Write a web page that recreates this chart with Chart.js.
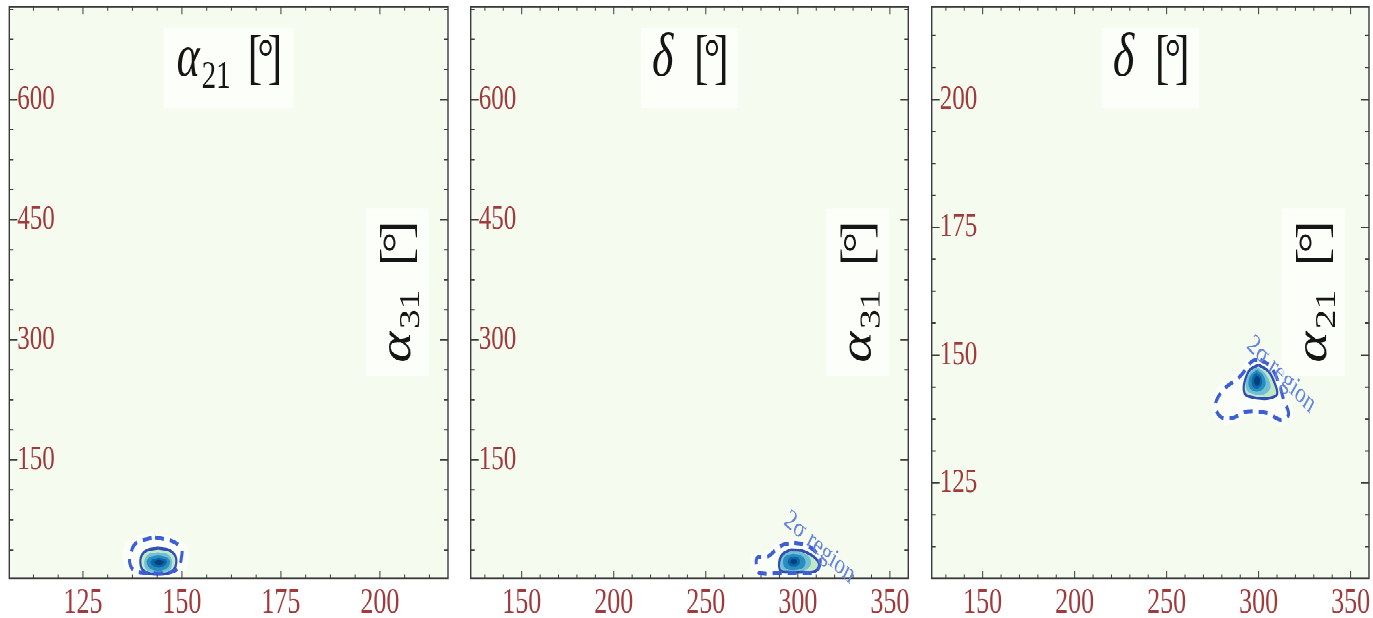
<!DOCTYPE html>
<html><head><meta charset="utf-8">
<script src="https://cdn.jsdelivr.net/npm/chart.js@4.4.1/dist/chart.umd.min.js"></script>
<style>
html,body{margin:0;padding:0;background:#fff;width:1373px;height:618px;overflow:hidden}
#wrap{position:absolute;left:0;top:0;width:1373px;height:458px;transform:scaleY(1.349345);transform-origin:0 0}
.p{position:absolute;top:0;height:458px}
</style></head><body>
<div id="wrap">
<div class="p" style="left:0;width:460px"><canvas id="c1"></canvas></div>
<div class="p" style="left:460px;width:460px"><canvas id="c2"></canvas></div>
<div class="p" style="left:920px;width:453px"><canvas id="c3"></canvas></div>
</div>
<script>
// ---- tick labels ----
const alpha21Ticks = [125, 150, 175, 200];
const alpha31Ticks = [150, 300, 450, 600];
const deltaTicks = [150, 200, 250, 300, 350];

// ---- panel 1: x = alpha21, y = alpha31 ----
const p1Halo = [[143.2,58],[149,53],[151.5,40],[151.6,22],[150,8],[143.5,4],[137,8],[135.2,22],[135.2,40],[137.5,53],[143.2,58]];
const p1Dashed = [[143.2,53.5],[147.8,48],[149.9,39],[149.9,29],[149.1,15],[146.5,9],[143.6,8],[140.3,9],[137.7,13],[136.8,22],[137,31.4],[137.7,42],[139,48],[143.2,53.5]];
const p1Solid = [[144,40],[147,37],[148.5,28],[148.2,15],[146.5,8.5],[144,7.5],[141.5,8.5],[139.8,15],[139.6,28],[141,37],[144,40]];
const p1Light = [[144,35],[146.6,32],[147.5,24],[147,13],[144,9],[141,13],[140.5,24],[141.4,32],[144,35]];
const p1Blue = [[144,31],[146.2,28.5],[147,23],[146.3,15],[144,11.5],[141.8,15],[141.1,23],[141.8,28.5],[144,31]];
const p1Dark = [[144.2,28],[145.8,26],[146.2,22.5],[145.6,18],[144.2,15.5],[142.6,18],[142.1,22.5],[142.6,26],[144.2,28]];
const p1Darkest = [[144.2,25.5],[145.2,24],[145.4,22],[144.8,19.5],[143.6,19.5],[143,22],[143.3,24],[144.2,25.5]];

// ---- panel 2: x = delta, y = alpha31 ----
const p2Halo = [[298,51],[306,48],[312,40],[315,27],[314.5,13],[311,6],[300,4],[289,4.5],[276,6],[274.5,18],[275,31],[282,35],[286,42],[291,48],[298,51]];
const p2Dashed = [[298,46.5],[304,44],[309,37],[312,27],[311.5,16],[309,10],[300,8.5],[290,8.5],[279,9],[277.5,18],[278,28],[284,30],[288,38],[292,44],[298,46.5]];
const p2Solid = [[296,38],[302,37],[307,32],[310.5,25],[311.5,18],[309.5,11],[303,10],[295,10],[291,11],[289.8,18],[290.5,28],[292.5,34],[296,38]];
const p2Light = [[297,36],[302.5,34.5],[306.5,28],[307,19],[304,12.5],[297,11],[291.8,12.5],[290.6,19],[291,28],[293,33.5],[297,36]];
const p2Blue = [[297.5,33],[301.5,31],[304,25],[303.5,17],[300,13],[295,13],[292.5,17],[292,25],[293.5,30.5],[297.5,33]];
const p2Dark = [[297.8,29.5],[300.3,28],[301.2,23],[300.2,18.5],[297.8,17],[295.3,18.5],[294.5,23],[295.3,27.5],[297.8,29.5]];
const p2Darkest = [[297.8,26.5],[299.2,25.5],[299.6,23],[299,20.5],[297.5,20],[296.3,21],[296,23.5],[296.7,25.8],[297.8,26.5]];

// ---- panel 3: x = delta, y = alpha21 ----
const p3Halo = [[301,150.3],[308,148.8],[313,145.3],[316.5,141.5],[319,138.2],[313,136.2],[304,137.6],[293.5,138],[285,136.5],[278,136.8],[274.3,140.5],[279.5,144.5],[289.5,147],[295.5,149.8],[301,150.3]];
const p3Dashed = [[300.9,149.1],[306.4,147.8],[310.9,144.6],[313.6,141.3],[316.3,138.4],[311.8,137.4],[304.6,138.7],[293.7,139],[285.6,137.7],[279.2,138],[276.5,140.3],[281,143.3],[290.1,145.9],[296.4,148.8],[300.9,149.1]];
const p3Solid = [[300,148.1],[305.4,146.8],[309.1,144.2],[310,142.3],[306,141.6],[301.8,141.5],[296,141.8],[292.8,142.3],[291.9,143.9],[293.5,146],[295.5,147.2],[300,148.1]];
const p3Light = [[299.5,147.6],[304,146.2],[306.5,143.8],[303,142.3],[297,142.4],[293.5,143.2],[293.3,145],[296,146.9],[299.5,147.6]];
const p3Blue = [[299,147.2],[302.5,146.1],[303.8,144.3],[301,143],[296.5,143.1],[294.5,144.2],[295.3,145.9],[299,147.2]];
const p3Dark = [[298.8,146.6],[301.3,145.8],[301.8,144.4],[299.5,143.5],[297,143.8],[296.2,145],[297.2,146.1],[298.8,146.6]];
const p3Darkest = [[299,146],[300.5,145.5],[300.6,144.6],[299.2,144],[297.8,144.4],[297.6,145.3],[299,146]];

// ---- styling ----
const BG = '#f6fbef';
const TICK_COLOR = '#a03a3c';
const SERIF = '"Liberation Serif", "DejaVu Serif", serif';

function toXY(arr) { return arr.map(p => ({x: p[0], y: p[1]})); }

function layerSets(L) {
  const base = {showLine: true, pointRadius: 0, pointHoverRadius: 0, tension: 0.35};
  const filled = (d, c, o) => Object.assign({}, base, {data: toXY(d), fill: 'shape', backgroundColor: c, borderColor: 'transparent', borderWidth: 0, order: o});
  return [
    filled(L.halo, 'rgba(255,255,255,0.55)', 9),
    filled(L.solid, '#c2e7c2', 8),
    filled(L.light, '#6fbfd6', 7),
    filled(L.blue, '#2b8cbe', 6),
    filled(L.dark, '#0868ac', 5),
    filled(L.darkest, '#083f7a', 4),
    Object.assign({}, base, {data: toXY(L.solid), fill: false, borderColor: '#2f4fb5', borderWidth: 2.2, order: 3}),
    Object.assign({}, base, {data: toXY(L.dashed), fill: false, borderColor: '#3d5fd3', borderWidth: 3, borderDash: [9, 6], order: 2}),
  ];
}

function alphaRun(sub) {
  return {len: 104, pieces: [
    {t: 'α', font: 'italic 44px ' + SERIF, x: 0, dy: 0},
    {t: sub, font: '29px ' + SERIF, x: 25, dy: 9},
    {t: '[', font: '44px ' + SERIF, x: 71, dy: 1},
    {t: '°', font: '40px ' + SERIF, x: 81, dy: 0},
    {t: ']', font: '44px ' + SERIF, x: 91, dy: 1},
  ]};
}
function deltaRun() {
  return {len: 75, pieces: [
    {t: 'δ', font: 'italic 46px ' + SERIF, x: 0, dy: 0},
    {t: '[', font: '44px ' + SERIF, x: 42, dy: 1},
    {t: '°', font: '40px ' + SERIF, x: 52, dy: 0},
    {t: ']', font: '44px ' + SERIF, x: 62, dy: 1},
  ]};
}

function drawRun(ctx, run, sx, by) {
  ctx.textAlign = 'left';
  ctx.textBaseline = 'alphabetic';
  run.pieces.forEach(p => { ctx.font = p.font; ctx.fillText(p.t, sx + p.x, by + p.dy); });
}

function minorValues(min, max, step, majors) {
  const out = [];
  for (let v = Math.ceil(min / step) * step; v <= max + 1e-9; v += step) {
    if (!majors.some(m => Math.abs(m - v) < 1e-6)) out.push(v);
  }
  return out;
}

function makeFrame(P) {
  return {
    id: 'frame_' + P.id,
    beforeDraw(chart) {
      const {ctx, chartArea: a} = chart;
      ctx.save();
      ctx.fillStyle = BG;
      ctx.fillRect(a.left, a.top, a.right - a.left, a.bottom - a.top);
      ctx.restore();
    },
    afterDatasetsDraw(chart) {
      const {ctx, chartArea: a} = chart;
      const xs = chart.scales.x, ys = chart.scales.y;
      ctx.save();
      // ticks
      ctx.strokeStyle = '#3c3c3c';
      ctx.lineWidth = 1;
      ctx.beginPath();
      const xt = (vals, len) => vals.forEach(v => {
        const p = xs.getPixelForValue(v);
        ctx.moveTo(p, a.bottom); ctx.lineTo(p, a.bottom - len);
        ctx.moveTo(p, a.top); ctx.lineTo(p, a.top + len);
      });
      const yt = (vals, len) => vals.forEach(v => {
        const p = ys.getPixelForValue(v);
        ctx.moveTo(a.left, p); ctx.lineTo(a.left + len, p);
        ctx.moveTo(a.right, p); ctx.lineTo(a.right - len, p);
      });
      xt(P.xTicks, 5.4);
      xt(minorValues(P.xMin, P.xMax, P.xMinor, P.xTicks), 2.7);
      yt(P.yTicks, 8);
      yt(minorValues(P.yMin, P.yMax, P.yMinor, P.yTicks), 4);
      ctx.stroke();
      // frame
      ctx.strokeStyle = '#3a3a3a';
      ctx.lineWidth = 1.4;
      ctx.strokeRect(a.left, a.top, a.right - a.left, a.bottom - a.top);

      // region label
      if (P.region) {
        const px = xs.getPixelForValue(P.region.x), py = ys.getPixelForValue(P.region.y);
        ctx.save();
        ctx.translate(px, py);
        ctx.rotate(P.region.angle * Math.PI / 180);
        ctx.font = '21px ' + SERIF;
        ctx.fillStyle = '#6585dc';
        ctx.textAlign = 'center';
        ctx.textBaseline = 'middle';
        ctx.fillText('2σ region', 0, 0);
        ctx.restore();
      }

      // top axis title (box + text)
      const cx = (a.left + a.right) / 2;
      ctx.fillStyle = 'rgba(255,255,255,0.7)';
      ctx.fillRect(cx - P.topBoxHalf, a.top + 15.5, 2 * P.topBoxHalf, 59.3);
      ctx.fillStyle = '#151515';
      drawRun(ctx, P.topRun, cx - P.topRun.len / 2, a.top + 50.8);

      // right rotated axis title
      const bx = a.right - P.sideOff, cy = (a.top + a.bottom) / 2;
      ctx.save();
      ctx.translate(bx, cy);
      ctx.rotate(-Math.PI / 2);
      ctx.fillStyle = 'rgba(255,255,255,0.7)';
      ctx.fillRect(-62, -44, 124, 63);
      ctx.fillStyle = '#151515';
      drawRun(ctx, P.sideRun, -P.sideRun.len / 2, 0);
      ctx.restore();

      ctx.restore();
    }
  };
}

const panels = [
  {id: 'c1', padL: 9.3, padR: 12, xMin: 106.4, xMax: 217.2, yMin: 2.6, yMax: 715.5,
   xTicks: alpha21Ticks, yTicks: alpha31Ticks, xMinor: 6.25, yMinor: 37.5,
   layers: {halo: p1Halo, dashed: p1Dashed, solid: p1Solid, light: p1Light, blue: p1Blue, dark: p1Dark, darkest: p1Darkest},
   topRun: alphaRun('21'), topBoxHalf: 65, sideRun: alphaRun('31'), sideOff: 38, region: null},
  {id: 'c2', padL: 10.7, padR: 11.7, xMin: 122.3, xMax: 360, yMin: 2.6, yMax: 715.5,
   xTicks: deltaTicks, yTicks: alpha31Ticks, xMinor: 10, yMinor: 37.5,
   layers: {halo: p2Halo, dashed: p2Dashed, solid: p2Solid, light: p2Light, blue: p2Blue, dark: p2Dark, darkest: p2Darkest},
   topRun: deltaRun(), topBoxHalf: 48.5, sideRun: alphaRun('31'), sideOff: 38, region: {x: 311.8, y: 40.7, angle: 33.7}},
  {id: 'c3', padL: 11.7, padR: 4, xMin: 122.3, xMax: 360, yMin: 106.4, yMax: 218.1,
   xTicks: deltaTicks, yTicks: alpha21Ticks, xMinor: 10, yMinor: 6.25,
   layers: {halo: p3Halo, dashed: p3Dashed, solid: p3Solid, light: p3Light, blue: p3Blue, dark: p3Dark, darkest: p3Darkest},
   topRun: deltaRun(), topBoxHalf: 48.5, sideRun: alphaRun('21'), sideOff: 43, region: {x: 312.3, y: 146.2, angle: 37.5}},
];

panels.forEach(P => {
  new Chart(document.getElementById(P.id), {
    type: 'scatter',
    data: {datasets: layerSets(P.layers)},
    options: {
      responsive: true, maintainAspectRatio: false, animation: false, devicePixelRatio: 2,
      events: [],
      layout: {padding: {left: P.padL, right: P.padR, top: 5.2, bottom: 0}},
      plugins: {legend: {display: false}, tooltip: {enabled: false}},
      scales: {
        x: {
          type: 'linear', position: 'bottom', min: P.xMin, max: P.xMax,
          afterBuildTicks: s => { s.ticks = P.xTicks.map(v => ({value: v})); },
          afterFit: s => { s.height = 29.6; s.paddingLeft = 0; s.paddingRight = 0; },
          grid: {display: false}, border: {display: false},
          ticks: {color: TICK_COLOR, font: {family: SERIF, size: 26}, padding: -5, maxRotation: 0, minRotation: 0, autoSkip: false, callback: v => String(v)}
        },
        y: {
          type: 'linear', position: 'left', min: P.yMin, max: P.yMax,
          afterBuildTicks: s => { s.ticks = P.yTicks.map(v => ({value: v})); },
          afterFit: s => { s.width = 0; s.paddingTop = 0; s.paddingBottom = 0; },
          grid: {display: false}, border: {display: false},
          ticks: {color: TICK_COLOR, font: {family: SERIF, size: 25}, mirror: true, padding: 8, autoSkip: false, callback: v => String(v)}
        }
      }
    },
    plugins: [makeFrame(P)]
  });
});
</script>
</body></html>
